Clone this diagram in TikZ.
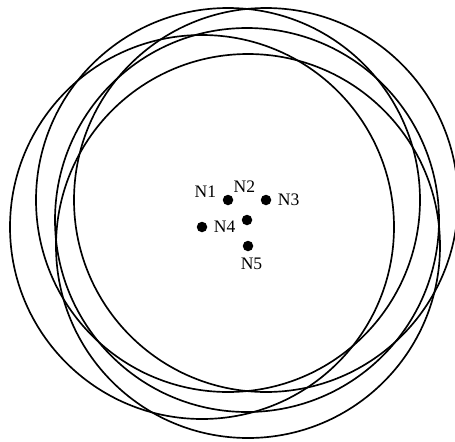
\documentclass[tikz,border=0pt]{standalone}
\usepackage{fontspec}
\setmainfont{Liberation Serif}
\begin{document}
\begin{tikzpicture}[font=\fontsize{10}{12}\selectfont,
    sensor/.style={circle,fill,inner sep=0pt,minimum size=0.21cm},
    coverage/.style={line width=0.95pt}]
  \useasboundingbox (0,0) rectangle (9.1,8.82);
  \clip (0,0) rectangle (9.1,8.82);
  \node[sensor,label={[yshift=4.5pt]left:N1}] (n1) at (4.56,4.82) {};
  \node[sensor,label={[label distance=9pt,xshift=-1.5pt]above:N2}] (n2) at (4.94,4.42) {};
  \node[sensor,label=right:N3] (n3) at (5.32,4.82) {};
  \node[sensor,label=right:N4] (n4) at (4.04,4.28) {};
  \node[sensor,label={[xshift=2pt]below:N5}] (n5) at (4.96,3.90) {};

  % one coverage circle round each node
  \foreach \n in {n1,n2,n3,n4,n5}
    \draw[coverage] (\n.center) circle (3.84);
\end{tikzpicture}
\end{document}
